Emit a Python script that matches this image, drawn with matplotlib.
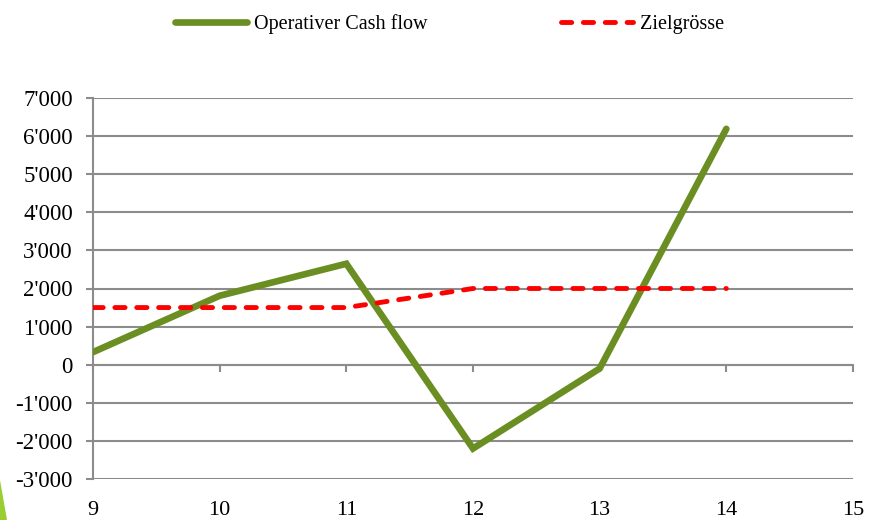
import numpy as np
import matplotlib
matplotlib.use("Agg")
import matplotlib.pyplot as plt
from matplotlib.patches import Polygon

# data
years = [9, 10, 11, 12, 13, 14]
cash_flow = [330, 1810, 2650, -2200, -100, 6190]
target = [1500, 1500, 1500, 2000, 2000, 2000]
x_ticks = [9, 10, 11, 12, 13, 14, 15]
y_ticks = [-3000, -2000, -1000, 0, 1000, 2000, 3000, 4000, 5000, 6000, 7000]

grey = "#8c8c8c"
plt.rcParams["font.family"] = ["Liberation Serif", "DejaVu Serif"]


def fmt(v):
    s = f"{abs(v):,}".replace(",", "'")
    return "-" + s if v < 0 else s


fig = plt.figure(figsize=(8.71, 5.2), dpi=100)
W, H = 871, 520
ax = fig.add_axes([93 / W, (H - 479) / H, 760 / W, 381 / H])

ax.plot(years, cash_flow, color="#6b8e23", lw=4.8, solid_joinstyle="miter",
        solid_capstyle="round", label="Operativer Cash flow", zorder=3)
ax.plot(years, target, color="#ff0000", lw=3.5, linestyle=(0, (2.1, 2.4)),
        dash_capstyle="round", label="Zielgrösse", zorder=4)

ax.set_xlim(9, 15)
ax.set_ylim(-3000, 7000)
ax.set_yticks(y_ticks)
ax.set_yticklabels([fmt(v) for v in y_ticks])
ax.set_xticks(x_ticks)
ax.set_xticklabels([str(v) for v in x_ticks])

ax.grid(axis="y", color=grey, lw=1.5)
ax.set_axisbelow(True)
for s in ["top", "right", "bottom"]:
    ax.spines[s].set_visible(False)
ax.spines["left"].set_color(grey)
ax.spines["left"].set_linewidth(1.5)
ax.tick_params(axis="y", direction="out", length=5, width=1.5, color=grey,
               labelsize=16.5, pad=9.5)
ax.tick_params(axis="x", length=0, labelsize=16, pad=16)

# horizontal axis crosses at zero, ticks hang below it
sec = ax.secondary_xaxis(3 / 10)
sec.set_xticks(x_ticks)
sec.tick_params(direction="out", length=5, width=1.5, color=grey,
                labelbottom=False)
sec.spines["bottom"].set_color(grey)
sec.spines["bottom"].set_linewidth(1.5)

fig.legend(loc="upper center", bbox_to_anchor=(0.516, 1.008), ncol=2,
           frameon=False, fontsize=14.5, handlelength=3.6, handletextpad=0.35,
           columnspacing=6.6)

# slide decoration in the lower left corner
fig.patches.append(Polygon([(0, 40 / H), (7 / W, 0), (0, 0)], closed=True,
                           transform=fig.transFigure, color="#9acd32",
                           lw=0))

fig.savefig("out.png", dpi=100)
